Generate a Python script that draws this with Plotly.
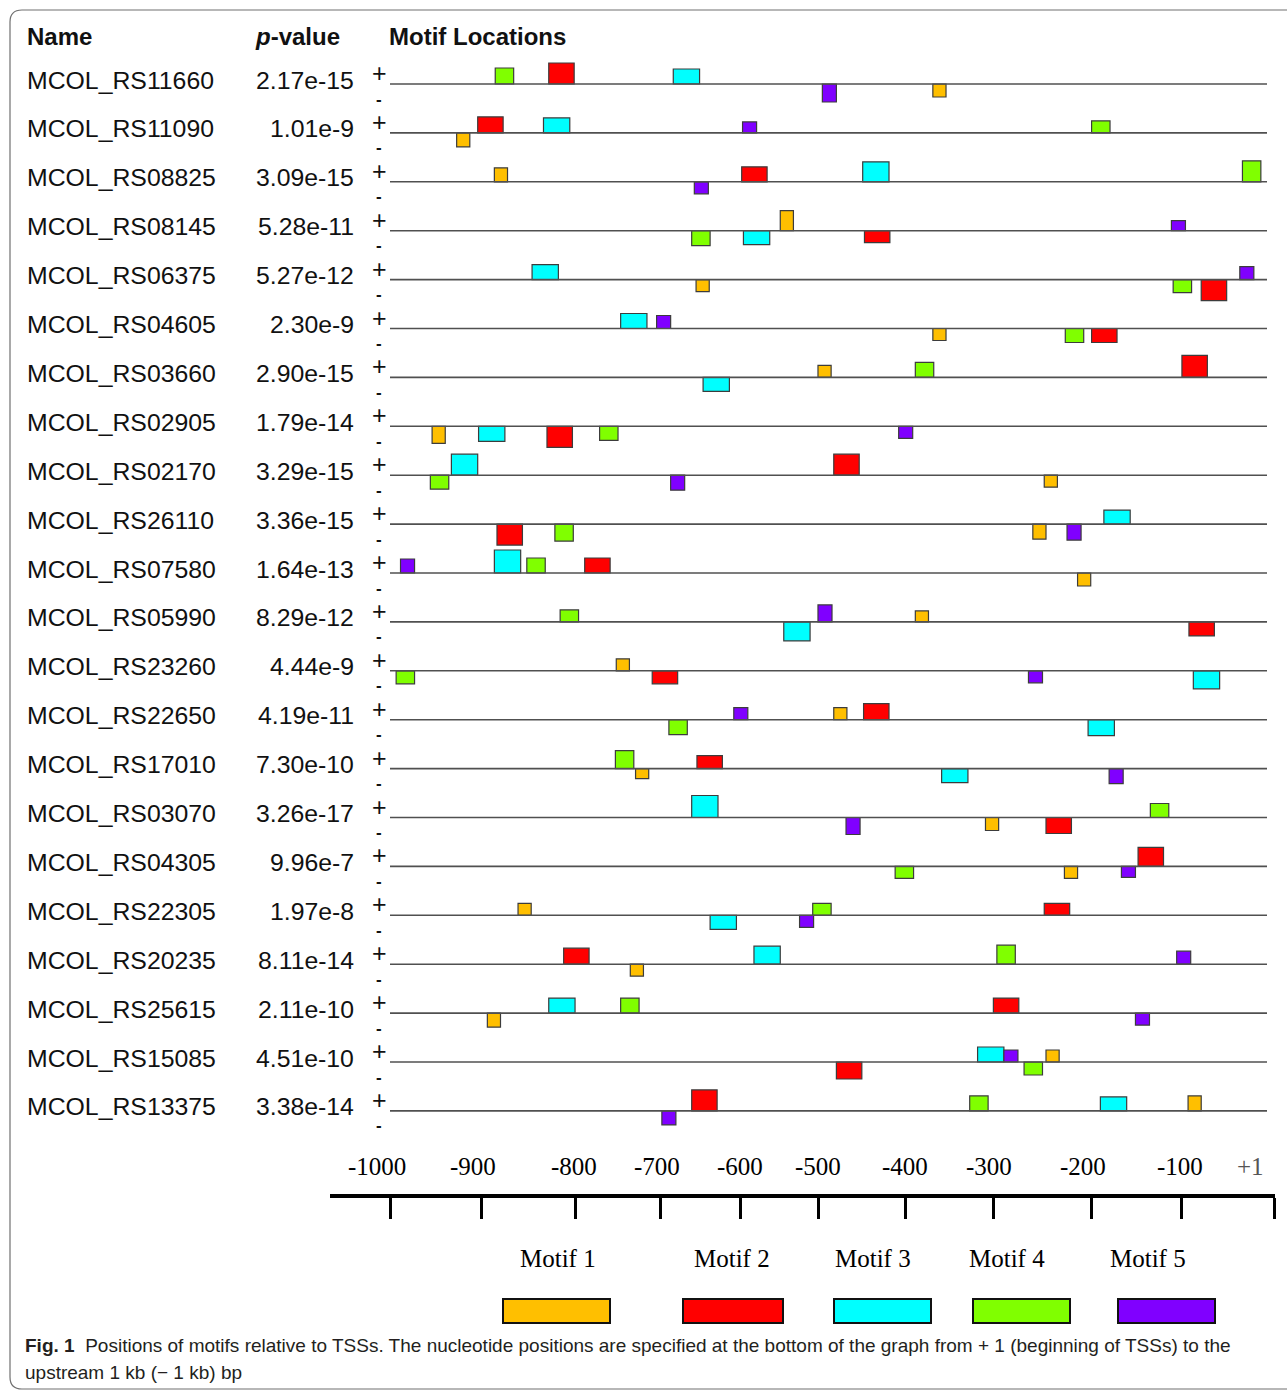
import plotly.graph_objects as go

# ---------------- data ----------------
genes = ["MCOL_RS11660", "MCOL_RS11090", "MCOL_RS08825", "MCOL_RS08145", "MCOL_RS06375",
         "MCOL_RS04605", "MCOL_RS03660", "MCOL_RS02905", "MCOL_RS02170", "MCOL_RS26110",
         "MCOL_RS07580", "MCOL_RS05990", "MCOL_RS23260", "MCOL_RS22650", "MCOL_RS17010",
         "MCOL_RS03070", "MCOL_RS04305", "MCOL_RS22305", "MCOL_RS20235", "MCOL_RS25615",
         "MCOL_RS15085", "MCOL_RS13375"]
pvalues = ["2.17e-15", "1.01e-9", "3.09e-15", "5.28e-11", "5.27e-12", "2.30e-9", "2.90e-15",
           "1.79e-14", "3.29e-15", "3.36e-15", "1.64e-13", "8.29e-12", "4.44e-9", "4.19e-11",
           "7.30e-10", "3.26e-17", "9.96e-7", "1.97e-8", "8.11e-14", "2.11e-10", "4.51e-10",
           "3.38e-14"]

motif_names = ["Motif 1", "Motif 2", "Motif 3", "Motif 4", "Motif 5"]
motif_widths = [15, 29, 30, 21, 16]          # bp

# sites: (gene index, start position bp, strand, site score height)
m1_sites = [(0, -381, "-", 13), (1, -924, "-", 14), (2, -881, "+", 14), (3, -555, "+", 20),
            (4, -651, "-", 12), (5, -381, "-", 12), (6, -512, "+", 12), (7, -952, "-", 17),
            (8, -254, "-", 12), (9, -267, "-", 15), (10, -216, "-", 13), (11, -401, "+", 11),
            (12, -742, "+", 12), (13, -494, "+", 12), (14, -720, "-", 10), (15, -321, "-", 13),
            (16, -231, "-", 12), (17, -854, "+", 12), (18, -726, "-", 12), (19, -889, "-", 14),
            (20, -252, "+", 12), (21, -90, "+", 15)]
m2_sites = [(0, -819, "+", 21), (1, -900, "+", 16), (2, -599, "+", 15), (3, -459, "-", 12),
            (4, -75, "-", 21), (5, -200, "-", 14), (6, -97, "+", 22), (7, -821, "-", 21),
            (8, -494, "+", 21), (9, -878, "-", 21), (10, -778, "+", 15), (11, -89, "-", 14),
            (12, -701, "-", 13), (13, -460, "+", 16), (14, -650, "+", 13), (15, -252, "-", 16),
            (16, -147, "+", 19), (17, -254, "+", 12), (18, -802, "+", 16), (19, -312, "+", 15),
            (20, -491, "-", 17), (21, -656, "+", 21)]
m3_sites = [(0, -677, "+", 15), (1, -825, "+", 15), (2, -461, "+", 20), (3, -597, "-", 14),
            (4, -838, "+", 15), (5, -737, "+", 15), (6, -643, "-", 14), (7, -899, "-", 15),
            (8, -930, "+", 21), (9, -186, "+", 14), (10, -881, "+", 23), (11, -551, "-", 19),
            (12, -84, "-", 18), (13, -204, "-", 16), (14, -371, "-", 14), (15, -656, "+", 22),
            (17, -635, "-", 14), (18, -585, "+", 18), (19, -819, "+", 15), (20, -330, "+", 15),
            (21, -190, "+", 14)]
m4_sites = [(0, -880, "+", 16), (1, -200, "+", 12), (2, -28, "+", 21), (3, -656, "-", 15),
            (4, -107, "-", 13), (5, -230, "-", 14), (6, -401, "+", 15), (7, -761, "-", 14),
            (8, -954, "-", 14), (9, -812, "-", 17), (10, -844, "+", 15), (11, -806, "+", 12),
            (12, -993, "-", 13), (13, -682, "-", 15), (14, -743, "+", 18), (15, -133, "+", 14),
            (16, -424, "-", 12), (17, -518, "+", 12), (18, -308, "+", 19), (19, -737, "+", 15),
            (20, -277, "-", 13), (21, -339, "+", 15)]
m5_sites = [(0, -507, "-", 18), (1, -598, "+", 11), (2, -653, "-", 12), (3, -109, "+", 10),
            (4, -31, "+", 13), (5, -696, "+", 13), (7, -420, "-", 12), (8, -680, "-", 15),
            (9, -228, "-", 16), (10, -988, "+", 14), (11, -512, "+", 17), (12, -272, "-", 12),
            (13, -608, "+", 12), (14, -180, "-", 15), (15, -480, "-", 17), (16, -166, "-", 11),
            (17, -533, "-", 12), (18, -103, "+", 13), (19, -150, "-", 12), (20, -300, "+", 12),
            (21, -690, "-", 14)]
all_sites = [m1_sites, m2_sites, m3_sites, m4_sites, m5_sites]

# bottom scale (as drawn in the figure, in bp of the motif scale)
scale_tick_pos = [-1000, -896, -788, -691, -600, -511, -412, -312, -200, -97, 9]
scale_label_pos = [-1015, -905, -790, -695, -601, -512, -413, -317, -210, -99, -19]
scale_labels = ["-1000", "-900", "-800", "-700", "-600", "-500", "-400", "-300", "-200", "-100", "+1"]

# ---------------- style ----------------
W, H = 1287, 1391
colors = ["#FFBF00", "#FF0000", "#00FFFF", "#80FF00", "#8000FF"]
SANS = "Liberation Sans, Arial, sans-serif"
SERIF = "Liberation Serif, Times New Roman, serif"
LINE_X0_PX, LINE_X1_PX = 390, 1267
ROW0_PX, ROW_STEP_PX = 84, 48.9
PX_PER_BP = (LINE_X1_PX - LINE_X0_PX) / 1000.0
SEQ_START, SEQ_END = -1000, 0


def px_to_bp(px):
    return SEQ_START + (px - LINE_X0_PX) / PX_PER_BP


def py_to_row(py):
    return -(py - ROW0_PX) / ROW_STEP_PX


def pxp(px):
    return px / W


def pyp(py):
    return 1 - py / H


fig = go.Figure()

# row baselines
lx, ly = [], []
for i in range(len(genes)):
    lx += [SEQ_START, SEQ_END, None]
    ly += [-i, -i, None]
fig.add_trace(go.Scatter(x=lx, y=ly, mode="lines", line=dict(color="#505050", width=1.6),
                         hoverinfo="skip", showlegend=False))

# motif boxes
for k, sites in enumerate(all_sites):
    w = motif_widths[k]
    xs = [s[1] + w / 2 for s in sites]
    bases = [-s[0] for s in sites]
    ys = [(1 if s[2] == "+" else -1) * s[3] / ROW_STEP_PX for s in sites]
    fig.add_trace(go.Bar(x=xs, y=ys, base=bases, width=[w] * len(sites),
                         marker=dict(color=colors[k], line=dict(color="#3c3c3c", width=1.2)),
                         name=motif_names[k], showlegend=False, hoverinfo="skip"))

# dummy trace for the scale axis
fig.add_trace(go.Scatter(x=[scale_tick_pos[0]], y=[0], xaxis="x2", yaxis="y2", mode="markers",
                         marker=dict(opacity=0), hoverinfo="skip", showlegend=False))

ann = []
# headers
hdr_y = pyp(37)
ann.append(dict(text="<b>Name</b>", x=pxp(25), y=hdr_y, xanchor="left"))
ann.append(dict(text="<b><i>p</i>-value</b>", x=pxp(253), y=hdr_y, xanchor="left"))
ann.append(dict(text="<b>Motif Locations</b>", x=pxp(387), y=hdr_y, xanchor="left"))
for a in ann:
    a.update(xref="paper", yref="paper", yanchor="middle", showarrow=False,
             font=dict(family=SANS, size=24, color="#111111"))

for i, (g, p) in enumerate(zip(genes, pvalues)):
    ann.append(dict(text=g, x=pxp(25), y=-i + 4 / ROW_STEP_PX, xref="paper", yref="y",
                    xanchor="left", yanchor="middle", showarrow=False,
                    font=dict(family=SANS, size=24.8, color="#111111")))
    ann.append(dict(text=p, x=pxp(356), y=-i + 4 / ROW_STEP_PX, xref="paper", yref="y",
                    xanchor="right", yanchor="middle", showarrow=False,
                    font=dict(family=SANS, size=24.8, color="#111111")))
    ann.append(dict(text="+", x=pxp(379), y=-i - 4 / ROW_STEP_PX, xref="paper", yref="y",
                    xanchor="center", yanchor="bottom", showarrow=False, borderpad=0,
                    font=dict(family=SANS, size=25, color="#111111")))
    ann.append(dict(text="<b>-</b>", x=pxp(379), y=-i - 4.5 / ROW_STEP_PX, xref="paper", yref="y",
                    xanchor="center", yanchor="top", showarrow=False, borderpad=0,
                    font=dict(family=SANS, size=17, color="#111111")))

# scale labels
for pos, lab in zip(scale_label_pos, scale_labels):
    ann.append(dict(text=lab, x=pos, y=pyp(1166), xref="x2", yref="paper",
                    xanchor="center", yanchor="middle", showarrow=False,
                    font=dict(family=SERIF, size=25, color="#555555" if lab == "+1" else "#000000")))

# legend
legend_label_cx = [558, 732, 873, 1007, 1148]
legend_box_x = [(503, 610), (683, 783), (834, 931), (973, 1070), (1118, 1215)]
shapes = []
for k in range(5):
    ann.append(dict(text=motif_names[k], x=pxp(legend_label_cx[k]), y=pyp(1258), xref="paper",
                    yref="paper", xanchor="center", yanchor="middle", showarrow=False,
                    font=dict(family=SERIF, size=25, color="#000000")))
    x0, x1 = legend_box_x[k]
    shapes.append(dict(type="rect", xref="paper", yref="paper", x0=pxp(x0), x1=pxp(x1),
                       y0=pyp(1299), y1=pyp(1323), fillcolor=colors[k],
                       line=dict(color="#111111", width=2)))

# caption
ann.append(dict(text="<b>Fig. 1</b>  Positions of motifs relative to TSSs. The nucleotide positions are "
                     "specified at the bottom of the graph from + 1 (beginning of TSSs) to the",
                x=pxp(23), y=pyp(1345), xref="paper", yref="paper", xanchor="left", yanchor="middle",
                showarrow=False, font=dict(family=SANS, size=19, color="#231f20")))
ann.append(dict(text="upstream 1 kb (\u2212 1 kb) bp", x=pxp(23), y=pyp(1372), xref="paper",
                yref="paper", xanchor="left", yanchor="middle", showarrow=False,
                font=dict(family=SANS, size=19, color="#231f20")))

# frame with rounded corners
r = 12
fx0, fy0, fy1 = 10, 10, 1389
path = (f"M {pxp(W + 5)},{pyp(fy0)} L {pxp(fx0 + r)},{pyp(fy0)} "
        f"Q {pxp(fx0)},{pyp(fy0)} {pxp(fx0)},{pyp(fy0 + r)} "
        f"L {pxp(fx0)},{pyp(fy1 - r)} Q {pxp(fx0)},{pyp(fy1)} {pxp(fx0 + r)},{pyp(fy1)} "
        f"L {pxp(W + 5)},{pyp(fy1)}")
shapes.append(dict(type="path", xref="paper", yref="paper", path=path,
                   line=dict(color="#707070", width=1.2)))

scale_y_px = 1194
scale_x0_px, scale_x1_px = 330, 1275
fig.update_layout(
    width=W, height=H, margin=dict(l=0, r=0, t=0, b=0),
    paper_bgcolor="white", plot_bgcolor="rgba(0,0,0,0)",
    barmode="overlay", showlegend=False,
    xaxis=dict(range=[px_to_bp(0), px_to_bp(W)], domain=[0, 1], visible=False, fixedrange=True),
    yaxis=dict(range=[py_to_row(H), py_to_row(0)], domain=[0, 1], visible=False, fixedrange=True),
    xaxis2=dict(range=[px_to_bp(scale_x0_px), px_to_bp(scale_x1_px)],
                domain=[pxp(scale_x0_px), pxp(scale_x1_px)], anchor="y2",
                showline=True, linecolor="#000000", linewidth=3.5, ticks="outside",
                tickvals=scale_tick_pos, ticklen=21, tickwidth=3, tickcolor="#000000",
                showticklabels=False, showgrid=False, zeroline=False, fixedrange=True),
    yaxis2=dict(domain=[pyp(scale_y_px), pyp(scale_y_px) + 0.01], anchor="x2", visible=False,
                fixedrange=True),
    annotations=ann, shapes=shapes,
)

fig.write_html("out.html", config={"displayModeBar": False},
               post_script="document.body.style.margin='0';")
